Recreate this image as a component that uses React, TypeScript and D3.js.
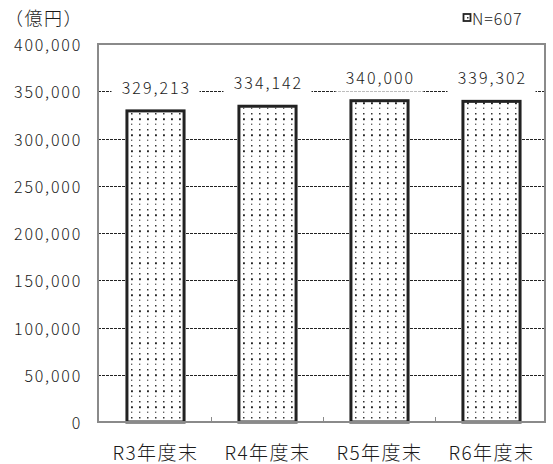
import React from "react";
import * as d3 from "d3";

const categories = ["R3年度末", "R4年度末", "R5年度末", "R6年度末"];
const values = [329213, 334142, 340000, 339302];
const yTicks = [0, 50000, 100000, 150000, 200000, 250000, 300000, 350000, 400000];
const unitLabel = "（億円）";
const legendLabel = "N=607";

const W = 553;
const H = 464;
const frame = { left: 98, right: 545, top: 44, bottom: 422 };
const FONT = "'Noto Sans CJK JP', 'Noto Sans', sans-serif";
const TXT = "#1a1a1a";

export default function App() {
  const x = d3.scaleBand<string>().domain(categories).range([99.5, 547.5]).paddingInner(0.49).paddingOuter(0.245);
  const y = d3.scaleLinear().domain([0, 400000]).range([frame.bottom, frame.top]);
  const fmt = d3.format(",");
  const bw = x.bandwidth();
  const step = x.step();

  return (
    <div style={{ position: "absolute", left: 0, top: 0 }}>
      <svg width={W} height={H} style={{ display: "block", background: "#fff" }}>
        <defs>
          <pattern id="dots" patternUnits="userSpaceOnUse" width={8} height={16} x={0} y={0}>
            <rect width={8} height={16} fill="#fff" />
            <rect x={3} y={1} width={1.5} height={1.5} fill="#333" />
            <rect x={3} y={6.3} width={1.9} height={1.9} fill="#222" />
            <rect x={3} y={11.6} width={1.3} height={1.3} fill="#555" />
          </pattern>
        </defs>

        {/* gridlines */}
        {yTicks.filter((t) => t > 0 && t < 400000).map((t) => (
          <line key={t} x1={frame.left} x2={frame.right} y1={Math.round(y(t)) + 0.5} y2={Math.round(y(t)) + 0.5}
            stroke="#222" strokeWidth={1} strokeDasharray="3 1" />
        ))}

        {/* bars */}
        {categories.map((c, i) => (
          <rect key={c} x={x(c)!} y={y(values[i])} width={bw} height={frame.bottom - y(values[i])}
            fill="url(#dots)" stroke="#222" strokeWidth={3} />
        ))}

        {/* frame */}
        <rect x={frame.left} y={frame.top} width={frame.right - frame.left} height={frame.bottom - frame.top}
          fill="none" stroke="#8a8a8a" strokeWidth={2} />

        {/* category boundary ticks */}
        {categories.slice(1).map((c) => {
          const xx = x(c)! - (step - bw) / 2;
          return <line key={c} x1={xx} x2={xx} y1={frame.bottom} y2={frame.bottom - 5} stroke="#8a8a8a" strokeWidth={1} />;
        })}

        {/* value labels */}
        {categories.map((c, i) => {
          const cx = x(c)! + bw / 2;
          const cy = y(values[i]) - 24;
          return (
            <g key={c}>
              <rect x={cx - 44} y={cy - 14} width={88} height={29} fill="#fff" />
              <text x={cx + 1} y={cy} textAnchor="middle" dominantBaseline="central" fontFamily={FONT} fontSize={16}
                fontWeight={300} letterSpacing={2} fill={TXT}>
                {fmt(values[i])}
              </text>
            </g>
          );
        })}

        {/* y tick labels */}
        {yTicks.map((t) => (
          <text key={t} x={82} y={y(t)} textAnchor="end" dominantBaseline="central" fontFamily={FONT} fontSize={16}
            fontWeight={300} letterSpacing={1.8} fill={TXT}>
            {fmt(t)}
          </text>
        ))}

        {/* category labels */}
        {categories.map((c) => (
          <text key={c} x={x(c)! + bw / 2} y={451} textAnchor="middle" dominantBaseline="central" fontFamily={FONT} fontSize={19}
            fontWeight={300} letterSpacing={1.5} fill={TXT}>
            {c}
          </text>
        ))}

        {/* unit */}
        <text x={5} y={17} dominantBaseline="central" fontFamily={FONT} fontSize={18} fontWeight={300} letterSpacing={1.5} fill={TXT}>{unitLabel}</text>

        {/* legend */}
        <rect x={463.5} y={14} width={7} height={7} fill="url(#dots)" stroke="#222" strokeWidth={1.8} />
        <text x={472} y={18} dominantBaseline="central" fontFamily={FONT} fontSize={16} fontWeight={300} letterSpacing={1} fill={TXT}>{legendLabel}</text>
      </svg>
    </div>
  );
}
